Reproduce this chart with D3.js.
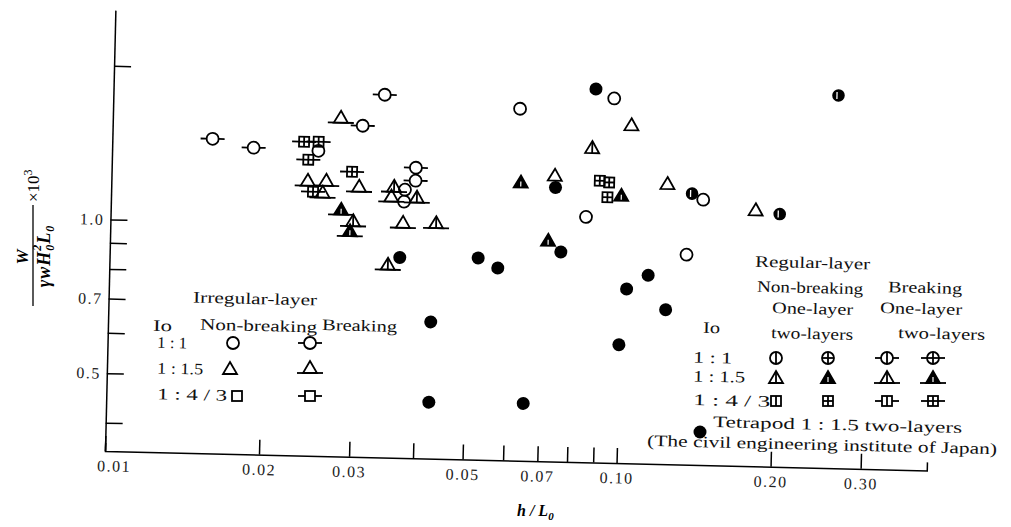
<!DOCTYPE html>
<html>
<head>
<meta charset="utf-8">
<script src="https://cdn.jsdelivr.net/npm/d3@7"></script>
<style>
  body { margin: 0; background: #fff; }
  svg { font-family: "Liberation Serif", "DejaVu Serif", serif; }
</style>
</head>
<body>
<svg width="1011" height="527"></svg>
<script>
// each point: [h/L0, W/(γw H0² L0) ×10³]
var irrNonBreakCircle = [[0.0624, 1.72], [0.0952, 1.82], [0.0849, 1.064], [0.1436, 1.164], [0.134, 0.907],
                         [0.0375, 1.18], [0.0374, 1.118], [0.0253, 1.393]];
var irrNonBreakTri = [[0.1032, 1.616], [0.0735, 1.277], [0.1221, 1.245], [0.1821, 1.116]];
var irrBreakCircle = [[0.0157, 1.454], [0.0189, 1.403], [0.0339, 1.806], [0.0308, 1.567], [0.0393, 1.304], [0.0393, 1.23]];
var irrBreakTri = [[0.0279, 1.621], [0.0242, 1.216], [0.0263, 1.218], [0.0259, 1.154], [0.0305, 1.19],
                   [0.0353, 1.142], [0.0373, 1.016]];
var regNonBreak1Circle = [[0.261, 1.889], [0.1365, 1.195], [0.2029, 1.1]];
var regNonBreak1Tri = [[0.0867, 1.452]];
var regNonBreak2Tri = [[0.0631, 1.234], [0.0993, 1.175], [0.0718, 0.952]];
var regNonBreak2Sq = [[0.09, 1.254], [0.0939, 1.246], [0.0933, 1.165]];
var regBreak1Tri = [[0.0357, 1.194], [0.0396, 1.14], [0.0298, 1.018], [0.0433, 1.018], [0.035, 0.84]];
var regBreak2Tri = [[0.0282, 1.071], [0.0294, 0.973]];
var regBreak2Sq = [[0.0237, 1.449], [0.0253, 1.451], [0.0242, 1.337], [0.0295, 1.272], [0.0248, 1.158]];
var tetrapod = [[0.0876, 1.895], [0.0738, 1.211], [0.0369, 0.869], [0.0525, 0.874], [0.0574, 0.837],
                [0.0761, 0.906], [0.113, 0.823], [0.1027, 0.772], [0.1227, 0.706], [0.0427, 0.652],
                [0.0998, 0.6], [0.0427, 0.454], [0.0653, 0.456]];

var xTicks = [0.01, 0.02, 0.03, 0.04, 0.05, 0.06, 0.07, 0.08, 0.09, 0.1, 0.2, 0.3];
var xTickLabels = ['0.01', '0.02', '0.03', '', '0.05', '', '0.07', '', '', '0.10', '0.20', '0.30'];
var yTicks = [0.4, 0.5, 0.6, 0.7, 0.8, 0.9, 1.0, 2.0];
var yTickLabels = ['', '0.5', '', '0.7', '', '', '1.0', ''];

var originX = 105, originY = 451;
var tilt = 1.35; // the scanned figure is slightly rotated

var xScale = d3.scaleLog().domain([0.01, 0.404]).range([0, 822]);
var yScale = d3.scaleLog().domain([0.352, 2.57]).range([0, -441]);

var svg = d3.select('svg');

// marker styles
var styles = {
  irrNonBreakCircle: {shape: 'circle'},
  irrNonBreakTri: {shape: 'tri'},
  irrNonBreakSq: {shape: 'sq'},
  irrBreakCircle: {shape: 'circle', whisker: true},
  irrBreakTri: {shape: 'tri', whisker: true},
  irrBreakSq: {shape: 'sq', whisker: true},
  regNonBreak1Circle: {shape: 'circle', inner: 'v'},
  regNonBreak2Circle: {shape: 'circle', inner: 'x'},
  regBreak1Circle: {shape: 'circle', inner: 'v', whisker: true},
  regBreak2Circle: {shape: 'circle', inner: 'x', whisker: true},
  regNonBreak1Tri: {shape: 'tri', inner: 'v'},
  regNonBreak2Tri: {shape: 'tri', inner: 'fill'},
  regBreak1Tri: {shape: 'tri', inner: 'v', whisker: true},
  regBreak2Tri: {shape: 'tri', inner: 'fill', whisker: true},
  regNonBreak1Sq: {shape: 'sq', inner: 'v'},
  regNonBreak2Sq: {shape: 'sq', inner: 'x'},
  regBreak1Sq: {shape: 'sq', inner: 'v', whisker: true},
  regBreak2Sq: {shape: 'sq', inner: 'x', whisker: true},
  tetrapod: {shape: 'dot'}
};

function drawMarker(g, m, x, y, heavy){
  var s = g.append('g')
    .attr('transform', `translate(${x},${y})`)
    .attr('fill', 'none')
    .attr('stroke', '#000')
    .attr('stroke-width', 1.8);

  if (m.shape === 'dot') {
    s.append('circle').attr('r', 6.5).attr('fill', '#000').attr('stroke', 'none');
    return;
  }
  if (m.shape === 'circle') {
    if (m.whisker) {
      s.append('line').attr('x1', -12).attr('x2', -6);
      s.append('line').attr('x1', 6).attr('x2', 12);
    }
    if (heavy) {
      // printed so heavily that only a slit is left white
      s.append('circle').attr('r', 6.3).attr('fill', '#000').attr('stroke', 'none');
      s.append('line').attr('x1', -1.5).attr('x2', -1.5).attr('y1', -3.5).attr('y2', 3.5)
        .attr('stroke', '#fff').attr('stroke-width', 1.3);
      return;
    }
    s.append('circle').attr('r', 6);
    if (m.inner === 'v' || m.inner === 'x') s.append('line').attr('y1', -6).attr('y2', 6);
    if (m.inner === 'x') s.append('line').attr('x1', -6).attr('x2', 6);
  }
  if (m.shape === 'tri') {
    if (m.whisker) s.append('line').attr('x1', -13).attr('x2', 13).attr('y1', 5).attr('y2', 5);
    s.append('path').attr('d', 'M0,-7L7,5L-7,5Z')
      .attr('fill', m.inner === 'fill' ? '#000' : 'none');
    if (m.inner === 'v') s.append('line').attr('y1', -6).attr('y2', 5);
    if (m.inner === 'fill') s.append('line').attr('y1', -1).attr('y2', 4)
      .attr('stroke', '#fff').attr('stroke-width', 1.2);
  }
  if (m.shape === 'sq') {
    if (m.whisker) {
      s.append('line').attr('x1', -12).attr('x2', -5);
      s.append('line').attr('x1', 5).attr('x2', 12);
    }
    s.append('rect').attr('x', -5).attr('y', -5).attr('width', 10).attr('height', 10);
    if (m.inner === 'v' || m.inner === 'x') s.append('line').attr('y1', -5).attr('y2', 5);
    if (m.inner === 'x') s.append('line').attr('x1', -5).attr('x2', 5);
  }
}

// ---- plot area (rotated like the scan) ----
var plot = svg.append('g')
  .attr('transform', `translate(${originX},${originY}) rotate(${tilt})`);

var xAxis = plot.append('g')
  .call(d3.axisBottom(xScale)
    .tickValues(xTicks)
    .tickSize(-15)
    .tickSizeOuter(-8)
    .tickPadding(9)
    .tickFormat((d, i) => xTickLabels[i]));
xAxis.select('.tick text').attr('dx', 9);

var yAxis = plot.append('g')
  .call(d3.axisLeft(yScale)
    .tickValues(yTicks)
    .tickSize(-17)
    .tickSizeOuter(0)
    .tickPadding(6)
    .tickFormat((d, i) => yTickLabels[i]));

plot.selectAll('.domain, .tick line').attr('stroke', '#000').attr('stroke-width', 1.5);
plot.selectAll('g')
  .attr('font-family', '"Liberation Serif", "DejaVu Serif", serif')
  .attr('font-size', 16);
plot.selectAll('.tick text').attr('fill', '#222').style('letter-spacing', '1.5px');

var series = [
  ['irrNonBreakCircle', irrNonBreakCircle],
  ['irrNonBreakTri', irrNonBreakTri],
  ['irrBreakCircle', irrBreakCircle],
  ['irrBreakTri', irrBreakTri],
  ['regNonBreak1Tri', regNonBreak1Tri],
  ['regNonBreak2Tri', regNonBreak2Tri],
  ['regNonBreak2Sq', regNonBreak2Sq],
  ['regBreak1Tri', regBreak1Tri],
  ['regBreak2Tri', regBreak2Tri],
  ['regBreak2Sq', regBreak2Sq],
  ['tetrapod', tetrapod]
];
var points = plot.append('g');
series.forEach(function(s){
  s[1].forEach(function(d){
    drawMarker(points, styles[s[0]], xScale(d[0]), yScale(d[1]));
  });
});
regNonBreak1Circle.forEach(function(d){
  drawMarker(points, styles.regNonBreak1Circle, xScale(d[0]), yScale(d[1]), true);
});

// ---- axis titles ----
var yTitle = svg.append('g').attr('fill', '#000');
yTitle.append('line')
  .attr('x1', 33).attr('x2', 33).attr('y1', 205).attr('y2', 306)
  .attr('stroke', '#000').attr('stroke-width', 1.3);
yTitle.append('text')
  .attr('transform', 'rotate(-90)')
  .attr('x', -257).attr('y', 28)
  .attr('text-anchor', 'middle')
  .attr('font-size', 17).attr('font-weight', 'bold').attr('font-style', 'italic')
  .text('W');
var den = yTitle.append('text')
  .attr('transform', 'rotate(-90)')
  .attr('x', -256).attr('y', 50)
  .attr('text-anchor', 'middle')
  .attr('font-size', 18).attr('font-weight', 'bold').attr('font-style', 'italic')
  .style('letter-spacing', '1px');
den.append('tspan').text('γwH');
den.append('tspan').attr('font-size', 12).attr('dy', 4).text('0');
den.append('tspan').attr('font-size', 12).attr('dx', -7).attr('dy', -13).text('2');
den.append('tspan').attr('dy', 9).text('L');
den.append('tspan').attr('font-size', 12).attr('dy', 4).text('0');
var pow = yTitle.append('text')
  .attr('transform', 'rotate(-90)')
  .attr('x', -202).attr('y', 39)
  .attr('font-size', 17);
pow.append('tspan').text('×10');
pow.append('tspan').attr('font-size', 12).attr('dy', -7).text('3');

var xTitle = svg.append('text')
  .attr('x', 517).attr('y', 516)
  .attr('font-size', 16).attr('font-weight', 'bold').attr('font-style', 'italic');
xTitle.append('tspan').text('h / L');
xTitle.append('tspan').attr('font-size', 11).attr('dy', 4).text('0');

// ---- legends ----
var legend = svg.append('g').attr('fill', '#111').attr('font-size', 16);

function label(x, y, w, str){
  legend.append('text')
    .attr('x', x).attr('y', y)
    .attr('textLength', w).attr('lengthAdjust', 'spacingAndGlyphs')
    .attr('transform', `rotate(${tilt},${x + w / 2},${y})`)
    .text(str);
}

// irregular-layer
label(193, 304, 124, 'Irregular-layer');
label(153, 331, 19, 'Io');
label(200, 331, 117, 'Non-breaking');
label(322, 331, 75, 'Breaking');
label(157, 348, 30, '1 : 1');
label(157, 374, 46, '1 : 1.5');
label(157, 400, 70, '1 : 4 / 3');
drawMarker(legend, styles.irrNonBreakCircle, 233, 343);
drawMarker(legend, styles.irrBreakCircle, 310, 343);
drawMarker(legend, styles.irrNonBreakTri, 230, 369);
drawMarker(legend, styles.irrBreakTri, 310, 368);
drawMarker(legend, styles.irrNonBreakSq, 237, 396);
drawMarker(legend, styles.irrBreakSq, 310, 396);

// regular-layer
label(755, 268, 115, 'Regular-layer');
label(757, 293, 106, 'Non-breaking');
label(888, 293, 74, 'Breaking');
label(772, 314, 81, 'One-layer');
label(880, 314, 82, 'One-layer');
label(703, 333, 17, 'Io');
label(771, 339, 82, 'two-layers');
label(898, 339, 87, 'two-layers');
label(693, 363, 39, '1 : 1');
label(693, 382, 52, '1 : 1.5');
label(693, 406, 77, '1 : 4 / 3');

var regRows = [
  ['regNonBreak1Circle', 'regNonBreak2Circle', 'regBreak1Circle', 'regBreak2Circle'],
  ['regNonBreak1Tri', 'regNonBreak2Tri', 'regBreak1Tri', 'regBreak2Tri'],
  ['regNonBreak1Sq', 'regNonBreak2Sq', 'regBreak1Sq', 'regBreak2Sq']
];
var regRowY = [358, 378, 401];
var regColX = [776, 828, 887, 933];
regRows.forEach(function(row, i){
  row.forEach(function(key, j){
    drawMarker(legend, styles[key], regColX[j], regRowY[i]);
  });
});

drawMarker(legend, styles.tetrapod, 700, 432);
label(713, 430, 249, 'Tetrapod 1 : 1.5 two-layers');
label(647, 450, 350, '(The civil engineering institute of Japan)');
</script>
</body>
</html>
